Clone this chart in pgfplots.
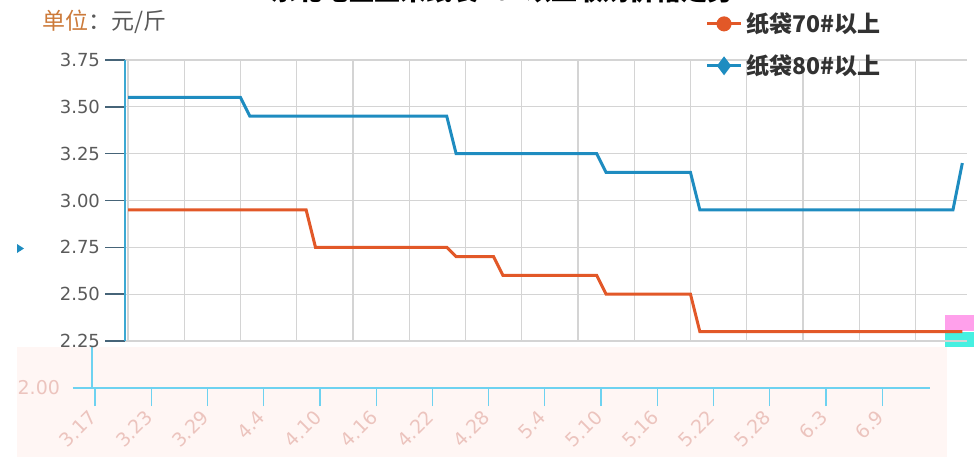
\documentclass[border=0pt]{standalone}
\usepackage{pgfplots}
\pgfplotsset{compat=1.18}
\usepackage{fontspec}
\setmainfont{DejaVu Sans}
\newfontfamily\cjk{Noto Sans CJK SC}
\definecolor{orangec}{RGB}{226,88,40}
\definecolor{bluec}{RGB}{30,140,192}
\definecolor{gridc}{RGB}{212,212,212}
\definecolor{yaxisc}{RGB}{60,168,210}
\definecolor{tickc}{RGB}{70,100,120}
\definecolor{labelc}{RGB}{90,90,90}
\definecolor{unitc}{RGB}{204,122,58}
\definecolor{legtext}{RGB}{50,50,50}
\definecolor{ghostbg}{RGB}{255,246,244}
\definecolor{ghostline}{RGB}{110,210,240}
\definecolor{ghosttext}{RGB}{236,196,190}
\definecolor{glitchpink}{RGB}{255,160,235}
\definecolor{glitchcyan}{RGB}{70,240,225}
\begin{document}
\begin{tikzpicture}
\useasboundingbox (0,0) rectangle (487pt,228.5pt);
% faded lower band
\fill[ghostbg] (8.5pt,0pt) rectangle (473.5pt,55pt);
% glitch blocks
\fill[glitchpink] (472.5pt,63pt) rectangle (487pt,71pt);
\fill[glitchcyan] (472.5pt,55pt) rectangle (487pt,62.5pt);
% small marker at left edge
\fill[bluec] (8.5pt,106.5pt) -- (12pt,104.25pt) -- (8.5pt,102pt) -- cycle;
% clipped title
\begin{scope}
\clip (0,0) rectangle (487pt,228.5pt);
\node[anchor=base, font=\cjk\bfseries\fontsize{13}{14}\selectfont, text=black] at (251pt,228.2pt) {东北地区玉米纸袋70\#以上收购价格走势};
\end{scope}
% unit label
\node[anchor=west, font=\cjk\fontsize{11.5}{12}\selectfont, inner sep=0pt] at (21pt,217.5pt) {\textcolor{unitc}{单位}\textcolor{labelc}{：元/斤}};

% ghost axis (lower band)
\begin{axis}[
  at={(36.5pt,34.5pt)}, anchor=south west, scale only axis,
  width=428.5pt, height=20.5pt,
  xmin=-2.35, xmax=89.1, ymin=2, ymax=2.25,
  axis x line*=bottom, axis y line*=left,
  x axis line style={draw=ghostline, line width=0.6pt, -},
  y axis line style={draw=none, -},
  xtick={0,6,12,18,24,30,36,42,48,54,60,66,72,78,84},
  xticklabels={3.17,3.23,3.29,4.4,4.10,4.16,4.22,4.28,5.4,5.10,5.16,5.22,5.28,6.3,6.9},
  x tick style={draw=ghostline, line width=0.6pt},
  tick align=outside, major tick length=9pt,
  xticklabel style={rotate=45, anchor=east, text=ghosttext, font=\fontsize{9.5}{10}\selectfont, yshift=-2pt},
  ytick={2}, yticklabels={2.00}, y tick style={draw=none},
  yticklabel style={text=ghosttext, font=\fontsize{9.5}{10}\selectfont, xshift=6pt},
]
\draw[ghostline, line width=0.6pt] (axis cs:-0.32,2) -- (axis cs:-0.32,2.25);
\end{axis}

% main axis
\begin{axis}[
  at={(62.5pt,58pt)}, anchor=south west, scale only axis,
  width=421pt, height=140.5pt,
  xmin=-0.32, xmax=89.5, ymin=2.25, ymax=3.75,
  axis x line*=bottom, axis y line*=left,
  x axis line style={draw=none, -},
  y axis line style={draw=yaxisc, line width=1pt, -},
  xtick={0,6,12,18,24,30,36,42,48,54,60,66,72,78,84}, xticklabels={},
  x tick style={draw=none},
  ytick={2.25,2.5,2.75,3,3.25,3.5,3.75},
  y tick style={draw=tickc, line width=0.8pt},
  tick align=outside, major tick length=10pt,
  grid=major, major grid style={draw=gridc, line width=0.6pt},
  yticklabel style={font=\fontsize{9}{10}\selectfont, text=labelc, xshift=1pt},
  /pgf/number format/fixed, /pgf/number format/fixed zerofill,
  /pgf/number format/precision=2, /pgf/number format/assume math mode=true,
  legend cell align=left,
  legend style={at={(0.689,1.185)}, anchor=north west, draw=none, fill=none,
    font=\cjk\bfseries\fontsize{11.5}{12}\selectfont, text=legtext,
    row sep=5.5pt, inner sep=0pt},
  legend image code/.code={\draw[mark repeat=2, mark phase=2, #1] plot coordinates {(0pt,0pt) (8.5pt,0pt) (17pt,0pt)};},
]
\addplot[orangec, line width=1.5pt, forget plot] coordinates {
 (0,2.95) (19,2.95) (20,2.75) (34,2.75) (35,2.70) (39,2.70) (40,2.60)
 (50,2.60) (51,2.50) (60,2.50) (61,2.30) (89,2.30)};
\addplot[bluec, line width=1.5pt, forget plot] coordinates {
 (0,3.55) (12,3.55) (13,3.45) (34,3.45) (35,3.25) (50,3.25) (51,3.15)
 (60,3.15) (61,2.95) (88,2.95) (89,3.20)};
\addlegendimage{orangec, line width=1.5pt, mark=*, mark size=3pt}
\addlegendentry{纸袋70\#以上}
\addlegendimage{bluec, line width=1.5pt, mark=diamond*, mark size=3.5pt}
\addlegendentry{纸袋80\#以上}
\end{axis}
\end{tikzpicture}
\end{document}
